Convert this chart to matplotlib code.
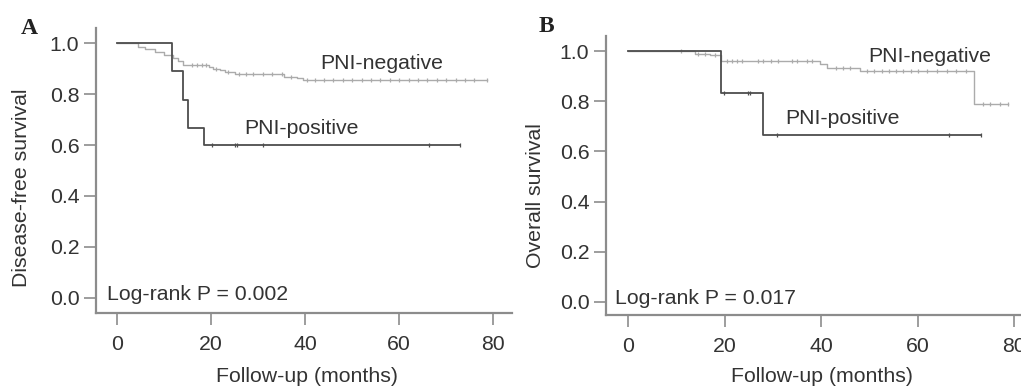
import numpy as np
import matplotlib
matplotlib.use("Agg")
import matplotlib.pyplot as plt

plt.rcParams['font.family'] = ['Liberation Sans', 'DejaVu Sans']

# Panel A: disease-free survival
a_neg_t = [0, 4.5, 6, 8, 10, 12, 13, 14, 19.5, 20.5, 22, 23, 25, 35.5, 38.3, 39.5, 78.7]
a_neg_s = [1.0, 0.985, 0.975, 0.965, 0.955, 0.94, 0.93, 0.914, 0.905, 0.90, 0.894, 0.885,
           0.877, 0.868, 0.861, 0.855, 0.855]
a_neg_cens = [16, 17, 18, 19, 21, 23.5, 26, 27.5, 29, 31, 33, 35, 37, 40.5, 42, 44, 46, 48, 50,
              52, 54, 56, 58, 60, 62, 64, 66, 68, 70, 72, 74, 76, 78.7]
a_pos_t = [0, 11.7, 14, 15.2, 18.6, 73]
a_pos_s = [1.0, 0.889, 0.778, 0.667, 0.6, 0.6]
a_pos_cens = [20.1, 25.1, 25.6, 31.1, 66.4, 73]

# Panel B: overall survival
b_neg_t = [0, 13.9, 17, 19.3, 39.8, 41.3, 48.1, 71.6, 78.6]
b_neg_s = [1.0, 0.99, 0.984, 0.962, 0.948, 0.931, 0.922, 0.79, 0.79]
b_neg_cens = [11, 14.5, 16, 18, 20.5, 21.5, 22.5, 23.5, 27, 28, 29.5, 31, 34, 35, 37, 38,
              43, 44.5, 46, 49.5, 51, 52.5, 54, 55.5, 57, 58.5, 60, 62, 64, 66, 68, 70,
              73.5, 75, 77, 78.6]
b_pos_t = [0, 19.3, 28, 73]
b_pos_s = [1.0, 0.833, 0.667, 0.667]
b_pos_cens = [19.9, 24.9, 25.3, 30.9, 66.4, 73]

W, H = 1021, 387
fig = plt.figure(figsize=(W / 100, H / 100), dpi=100)

dark = '#4d4d4d'
light = '#ababab'
spine_c = '#8c8c8c'
text_c = '#333333'
fs = 15.3


def surv_at(t, times, surv):
    idx = np.searchsorted(times, t, side='right') - 1
    return np.asarray(surv)[idx]


def draw_km(ax, times, surv, cens, color, lw, ms):
    ax.step(times, surv, where='post', color=color, lw=lw)
    ax.plot(cens, surv_at(cens, times, surv), ls='none', marker='|',
            color=color, ms=ms, mew=0.9)


def style(ax, xlim, ylim):
    ax.set_xlim(*xlim)
    ax.set_ylim(*ylim)
    ax.set_xticks([0, 20, 40, 60, 80])
    ax.set_yticks([0.0, 0.2, 0.4, 0.6, 0.8, 1.0])
    ax.set_yticklabels(['0.0', '0.2', '0.4', '0.6', '0.8', '1.0'])
    for s in ['top', 'right']:
        ax.spines[s].set_visible(False)
    for s in ['left', 'bottom']:
        ax.spines[s].set_color(spine_c)
        ax.spines[s].set_linewidth(1.6)
    ax.tick_params(direction='out', length=8.5, width=1.2, color=spine_c,
                   labelcolor=text_c, labelsize=fs)
    ax.tick_params(axis='y', pad=3.5)
    ax.tick_params(axis='x', pad=7.5)
    ax.patch.set_visible(False)


def px(x, y):
    return x / W, 1 - y / H


# panel A
axA = fig.add_axes([96 / W, 1 - 313 / H, (512 - 96) / W, (313 - 28) / H])
draw_km(axA, a_neg_t, a_neg_s, a_neg_cens, light, 1.0, 2.5)
draw_km(axA, a_pos_t, a_pos_s, a_pos_cens, dark, 1.3, 3.5)
style(axA, (-4.47, 84.0), (-0.059, 1.059))
axA.text(56.3, 0.92, 'PNI-negative', fontsize=fs, color=text_c, ha='center', va='center')
axA.text(39.3, 0.666, 'PNI-positive', fontsize=fs, color=text_c, ha='center', va='center')
axA.text(-2.1, 0.012, 'Log-rank P = 0.002', fontsize=fs, color=text_c, ha='left', va='center')

# panel B
axB = fig.add_axes([606 / W, 1 - 315 / H, (1040 - 606) / W, (315 - 36) / H])
draw_km(axB, b_neg_t, b_neg_s, b_neg_cens, light, 1.0, 2.5)
draw_km(axB, b_pos_t, b_pos_s, b_pos_cens, dark, 1.3, 3.5)
style(axB, (-4.56, 85.3), (-0.052, 1.06))
axB.text(62.5, 0.98, 'PNI-negative', fontsize=fs, color=text_c, ha='center', va='center')
axB.text(44.5, 0.732, 'PNI-positive', fontsize=fs, color=text_c, ha='center', va='center')
axB.text(-2.6, 0.015, 'Log-rank P = 0.017', fontsize=fs, color=text_c, ha='left', va='center')

# axis labels and panel letters
fig.text(*px(307, 376), 'Follow-up (months)', fontsize=fs, color=text_c, ha='center', va='center')
fig.text(*px(822, 376), 'Follow-up (months)', fontsize=fs, color=text_c, ha='center', va='center')
fig.text(*px(22, 188), 'Disease-free survival', fontsize=fs, color=text_c,
         ha='center', va='center', rotation=90)
fig.text(*px(535, 196), 'Overall survival', fontsize=fs, color=text_c,
         ha='center', va='center', rotation=90)
fig.text(*px(29, 28), 'A', fontsize=17, fontweight='bold', family='Liberation Serif',
         color='#222222', ha='center', va='center')
fig.text(*px(546, 27), 'B', fontsize=17, fontweight='bold', family='Liberation Serif',
         color='#222222', ha='center', va='center')

fig.savefig('out.png', dpi=100)
